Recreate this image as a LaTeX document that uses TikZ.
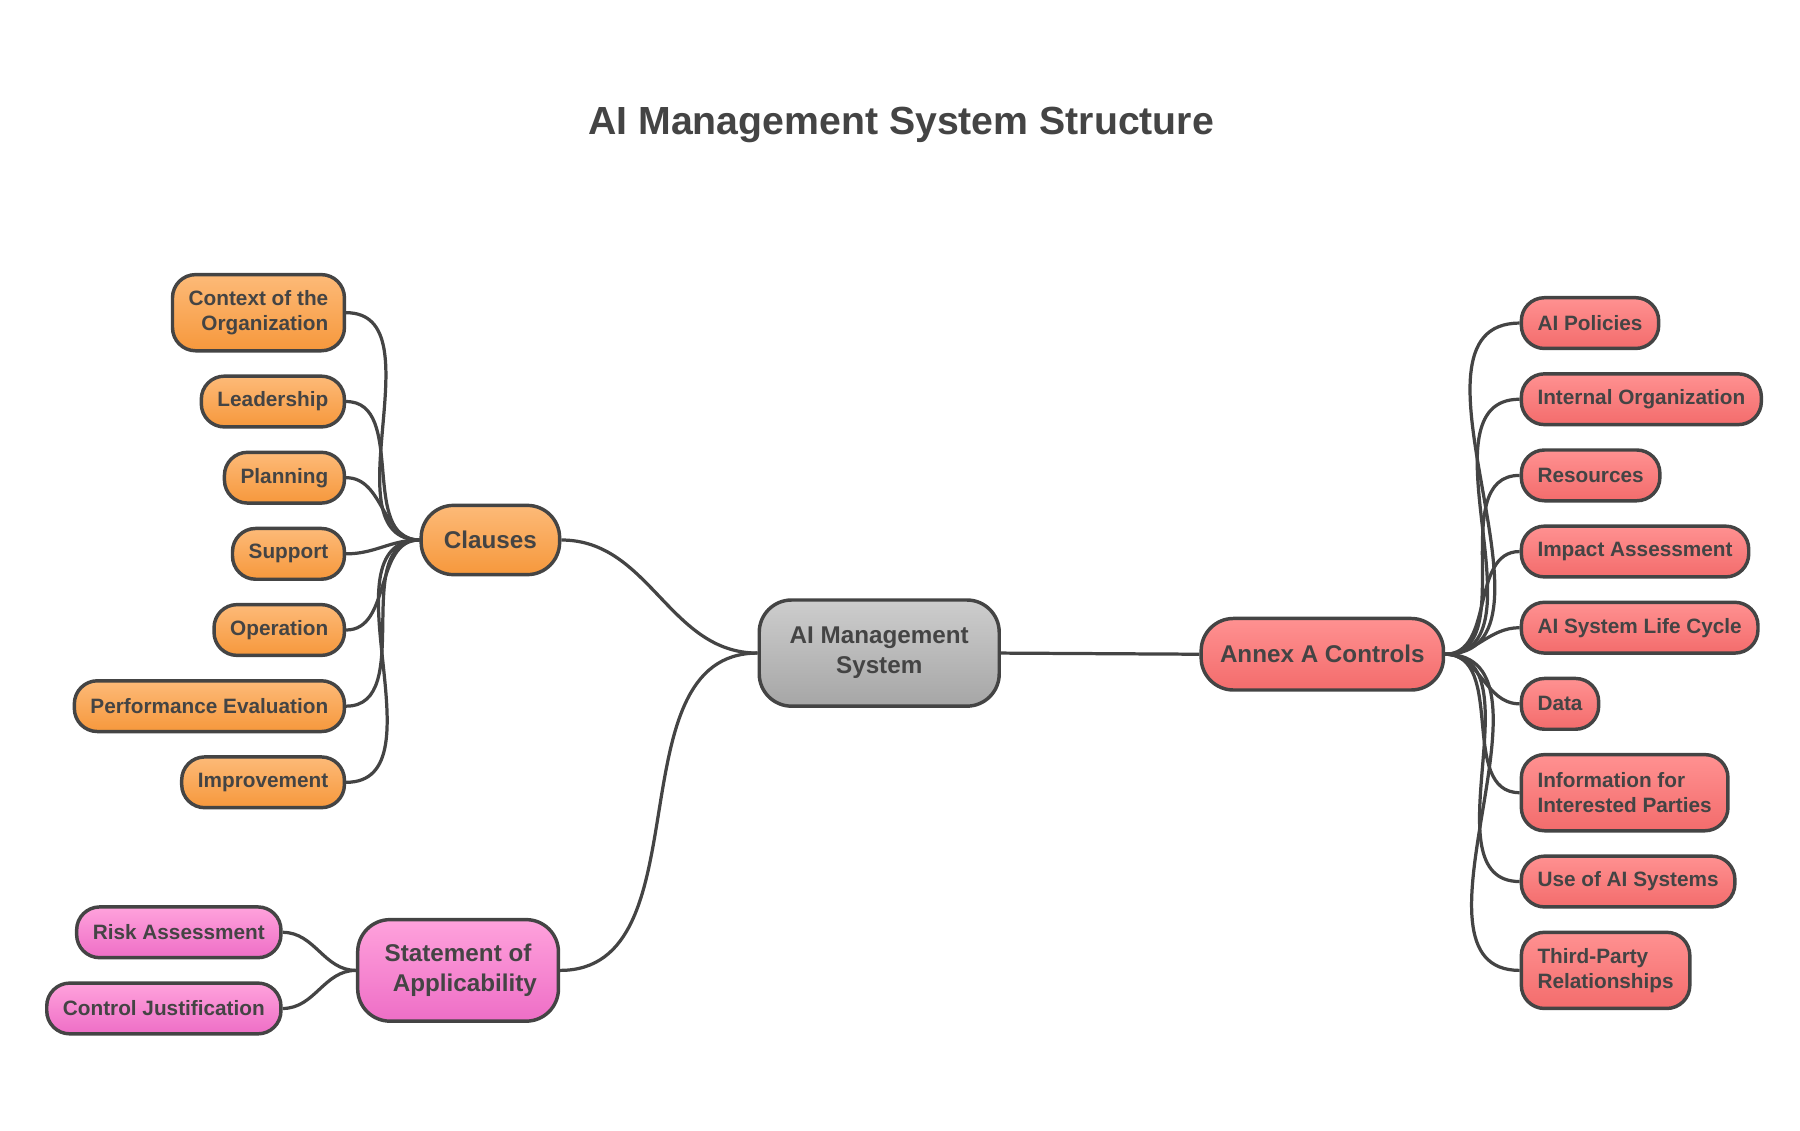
\documentclass[tikz,border=0pt]{standalone}
\usepackage{fontspec}
\setmainfont{Liberation Sans}
\definecolor{ink}{HTML}{444444}
\tikzset{
  box/.style={draw=ink, line width=1.5pt, rounded corners=10pt, text=ink, font=\bfseries\fontsize{9}{11}\selectfont, minimum height=22pt, inner xsep=7pt},
  orange/.style={box, top color={rgb,255:red,253;green,186;blue,120}, bottom color={rgb,255:red,246;green,152;blue,60}},
  red/.style={box, top color={rgb,255:red,255;green,145;blue,145}, bottom color={rgb,255:red,243;green,108;blue,108}},
  pink/.style={box, top color={rgb,255:red,255;green,162;blue,220}, bottom color={rgb,255:red,238;green,110;blue,198}},
  gray/.style={box, top color={rgb,255:red,205;green,205;blue,205}, bottom color={rgb,255:red,166;green,166;blue,166}},
  big/.style={font=\bfseries\fontsize{10.5}{13}\selectfont, rounded corners=14pt},
  link/.style={draw=ink, line width=1.4pt}
}
\begin{document}
\begin{tikzpicture}[x=0.5pt, y=-0.5pt]
  \useasboundingbox (0,0) rectangle (1560,980);
  \node[text=ink, font=\bfseries\fontsize{17}{20}\selectfont] (title) at (781,108) {AI Management System Structure};

  \node[gray, big, align=center, minimum width=104pt, minimum height=46pt] (ams) at (762,566) {AI Management\\System};
  \node[orange, big, minimum width=60pt, minimum height=30pt] (clauses) at (425,468) {Clauses};
  \node[red, big, minimum width=105pt, minimum height=31pt] (annex) at (1146,567) {Annex A Controls};
  \node[pink, big, align=center, minimum width=87pt, minimum height=44pt] (soa) at (397,841) {Statement of\\\ \ Applicability};

  % clauses
  \node[orange, anchor=east, align=right, minimum height=33pt] (c1) at (300,271) {Context of the\\Organization};
  \node[orange, anchor=east] (c2) at (300,348) {Leadership};
  \node[orange, anchor=east] (c3) at (300,414) {Planning};
  \node[orange, anchor=east] (c4) at (300,480) {Support};
  \node[orange, anchor=east] (c5) at (300,546) {Operation};
  \node[orange, anchor=east] (c6) at (300,612) {Performance Evaluation};
  \node[orange, anchor=east] (c7) at (300,678) {Improvement};

  % annex A
  \node[red, anchor=west] (a1) at (1317,280) {AI Policies};
  \node[red, anchor=west] (a2) at (1317,346) {Internal Organization};
  \node[red, anchor=west] (a3) at (1317,412) {Resources};
  \node[red, anchor=west] (a4) at (1317,478) {Impact Assessment};
  \node[red, anchor=west] (a5) at (1317,544) {AI System Life Cycle};
  \node[red, anchor=west] (a6) at (1317,610) {Data};
  \node[red, anchor=west, align=left, minimum height=33pt] (a7) at (1317,687) {Information for\\Interested Parties};
  \node[red, anchor=west] (a8) at (1317,764) {Use of AI Systems};
  \node[red, anchor=west, align=left, minimum height=33pt] (a9) at (1317,841) {Third-Party\\Relationships};

  % statement of applicability
  \node[pink, anchor=east] (s1) at (245,808) {Risk Assessment};
  \node[pink, anchor=east] (s2) at (245,874) {Control Justification};

  \draw[link] (clauses.east) to[out=0, in=180] (ams.west);
  \draw[link] (soa.east) to[out=0, in=180] (ams.west);
  \draw[link] (ams.east) -- (annex.west);
  \foreach \n in {c1,c2,c3,c4,c5,c6,c7}
    \draw[link] (clauses.west) to[out=180, in=0] (\n.east);
  \foreach \n in {a1,a2,a3,a4,a5,a6,a7,a8,a9}
    \draw[link] (annex.east) to[out=0, in=180] (\n.west);
  \foreach \n in {s1,s2}
    \draw[link] (soa.west) to[out=180, in=0] (\n.east);
\end{tikzpicture}
\end{document}
